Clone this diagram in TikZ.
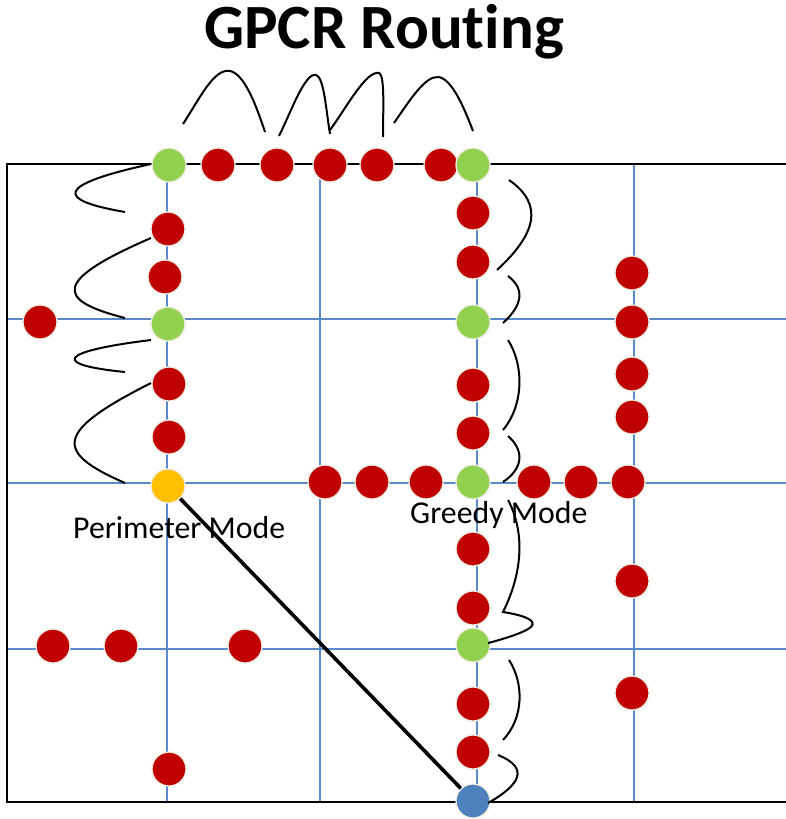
\documentclass[tikz,border=0pt]{standalone}
\usepackage{fontspec}
\setmainfont{Carlito}[Ligatures=NoCommon]
\definecolor{dotred}{HTML}{C00000}
\definecolor{dotgreen}{HTML}{92D050}
\definecolor{dotyellow}{HTML}{FFC000}
\definecolor{dotblue}{HTML}{4F81BD}
\definecolor{rim}{HTML}{EEECE1}
\definecolor{gridblue}{HTML}{5B8AC8}
\tikzset{
  dot/.style={circle, minimum size=34pt, inner sep=0pt, draw=rim, line width=1.3pt},
  rdot/.style={dot, fill=dotred},
  gdot/.style={dot, fill=dotgreen},
  ydot/.style={dot, fill=dotyellow},
  bdot/.style={dot, fill=dotblue},
  gridline/.style={gridblue, line width=1.7pt},
  frameline/.style={black, line width=2.6pt},
  hop/.style={black, line width=2pt},
  lbl/.style={inner sep=0pt, font=\fontsize{31.8}{38}\selectfont},
}
\begin{document}
\begin{tikzpicture}[x=1pt, y=-1pt]
\useasboundingbox (0,0) rectangle (786,819);

% title
\node[inner sep=0pt, anchor=base, font=\bfseries\fontsize{63}{72}\selectfont] (title) at (384,48) {GPCR Routing};

% street grid
\draw[gridline] (7,319) -- (786,319);
\draw[gridline] (7,483) -- (786,483);
\draw[gridline] (7,649) -- (786,649);
\draw[gridline] (167,164) -- (167,802);
\draw[gridline] (320,164) -- (320,802);
\draw[gridline] (477,164) -- (477,802);
\draw[gridline] (634,164) -- (634,802);

% area border
\draw[frameline] (786,164) -- (7,164) -- (7,802) -- (786,802);

% mode labels
\node[lbl, anchor=base west] (perim) at (73,538) {Perimeter Mode};
\node[lbl, anchor=base west] (greedy) at (410,523) {Greedy Mode};

% top street
\node[rdot] (t1) at (218,165) {};
\node[rdot] (t2) at (277,165) {};
\node[rdot] (t3) at (330,165) {};
\node[rdot] (t4) at (377,165) {};
\node[rdot] (t5) at (441,165) {};
\node[gdot] (jtl) at (169,165) {};
\node[gdot] (jtr) at (473,165) {};

% left avenue
\node[rdot] (l1) at (168,229) {};
\node[rdot] (l2) at (165,277) {};
\node[gdot] (jml) at (168,324) {};
\node[rdot] (l3) at (169,384) {};
\node[rdot] (l4) at (169,437) {};
\node[ydot] (src) at (168,486) {};
\node[rdot] (w1) at (40,322) {};
\node[rdot] (l5) at (169,769) {};

% middle avenue
\node[rdot] (m1) at (473,213) {};
\node[rdot] (m2) at (473,262) {};
\node[gdot] (jmm) at (473,322) {};
\node[rdot] (m3) at (473,385) {};
\node[rdot] (m4) at (473,433) {};
\node[gdot] (jc) at (473,482) {};
\node[rdot] (m5) at (473,549) {};
\node[rdot] (m6) at (473,608) {};
\node[gdot] (jlow) at (473,645) {};
\node[rdot] (m7) at (473,704) {};
\node[rdot] (m8) at (473,752) {};

% centre street
\node[rdot] (c1) at (325,482) {};
\node[rdot] (c2) at (372,482) {};
\node[rdot] (c3) at (426,482) {};
\node[rdot] (c4) at (534,482) {};
\node[rdot] (c5) at (581,482) {};
\node[rdot] (c6) at (628,482) {};

% right avenue
\node[rdot] (e1) at (632,273) {};
\node[rdot] (e2) at (632,322) {};
\node[rdot] (e3) at (632,374) {};
\node[rdot] (e4) at (632,417) {};
\node[rdot] (e5) at (632,581) {};
\node[rdot] (e6) at (632,693) {};

% lower street
\node[rdot] (s1) at (53,646) {};
\node[rdot] (s2) at (121,646) {};
\node[rdot] (s3) at (245,646) {};

% destination
\node[bdot] (dst) at (473,801) {};

% direct line from source to destination
\draw[black, line width=3.6pt] (src) -- (dst);

% hops along the top street
\draw[hop] (183,124) .. controls (200,98) and (214,68) .. (230,71) .. controls (245,74) and (257,108) .. (265,132);
\draw[hop] (279,136) .. controls (291,112) and (305,72) .. (316,75) .. controls (324,77) and (326,110) .. (330,134);
\draw[hop] (330,130) .. controls (345,110) and (366,70) .. (379,73) .. controls (385,75) and (383,110) .. (383,137);
\draw[hop] (394,123) .. controls (410,100) and (425,76) .. (438,77) .. controls (452,78) and (465,110) .. (473,131);

% hops along the left avenue
\draw[hop] (151,164) .. controls (55,185) and (55,200) .. (125,212);
\draw[hop] (151,238) .. controls (54,280) and (54,300) .. (125,318);
\draw[hop] (151,340) .. controls (54,352) and (54,365) .. (125,372);
\draw[hop] (151,383) .. controls (54,432) and (54,452) .. (125,483);

% hops along the middle avenue
\draw[hop] (509,180) .. controls (545,205) and (535,235) .. (497,270);
\draw[hop] (508,276) .. controls (524,288) and (524,304) .. (503,323);
\draw[hop] (508,340) .. controls (524,365) and (524,405) .. (503,430);
\draw[hop] (508,436) .. controls (524,450) and (524,468) .. (503,482);
\draw[hop] (508,500) .. controls (524,530) and (524,570) .. (503,612)
  .. controls (522,615) and (538,620) .. (531,627) .. controls (524,633) and (500,640) .. (488,643);
\draw[hop] (509,660) .. controls (524,683) and (524,718) .. (503,740);
\draw[hop] (498,755) .. controls (530,768) and (520,785) .. (488,803);
\end{tikzpicture}
\end{document}
